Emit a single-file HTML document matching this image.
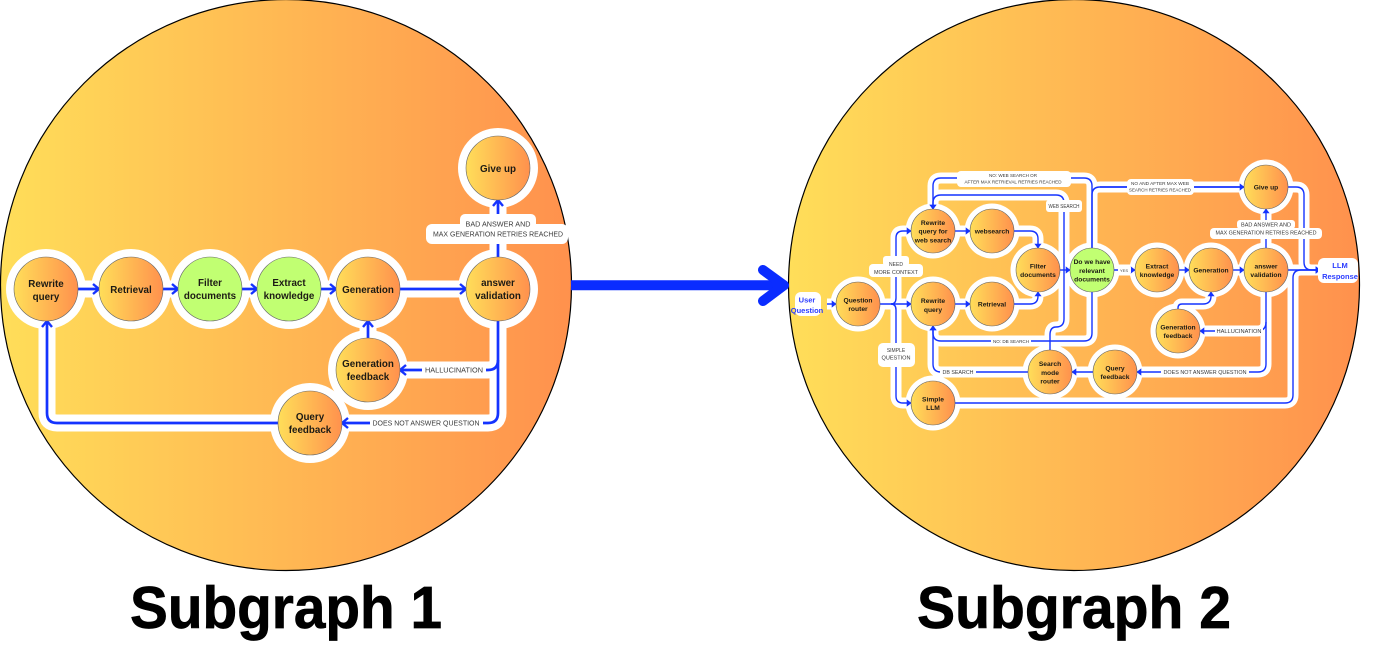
<!DOCTYPE html>
<html><head><meta charset="utf-8"><style>
html,body{margin:0;padding:0;background:#fff;width:1374px;height:655px;overflow:hidden}
svg{display:block}
.d{filter:blur(.35px)}
.n{font-family:"Liberation Sans",sans-serif;font-weight:700;fill:#1c1a14;text-anchor:middle}
.a{font-size:9.8px}.b{font-size:6.7px}
.l{font-family:"Liberation Sans",sans-serif;fill:#3a3a3a;text-anchor:middle}
.u{font-family:"Liberation Sans",sans-serif;font-weight:700;fill:#2b3cff;text-anchor:middle;font-size:7.5px}
.t{font-family:"Liberation Sans",sans-serif;font-weight:700;fill:#000;stroke:#000;stroke-width:.7;font-size:59px}
.h1{fill:none;stroke:#fff;stroke-width:17}.h2{fill:none;stroke:#fff;stroke-width:11}
.p1{fill:none;stroke:#1433ff;stroke-width:2.7;marker-end:url(#m1)}
.p2{fill:none;stroke:#1433ff;stroke-width:1.4;marker-end:url(#m2)}
.q2{fill:none;stroke:#1433ff;stroke-width:1.4}
.o{fill:url(#g);stroke:#666;stroke-width:.6}.g{fill:#c1ff72;stroke:#666;stroke-width:.6}
</style></head><body>
<svg width="1374" height="655" viewBox="0 0 1374 655" xmlns="http://www.w3.org/2000/svg">
<defs>
<linearGradient id="g" x1="0" x2="1" y1="0" y2="0"><stop offset="0" stop-color="#ffde59"/><stop offset="1" stop-color="#ff914d"/></linearGradient>
<marker id="m1" markerUnits="userSpaceOnUse" markerWidth="12" markerHeight="14" refX="10" refY="7" orient="auto"><path d="M4 2 L10 7 L4 12" fill="none" stroke="#1433ff" stroke-width="2.4"/></marker>
<marker id="m2" markerUnits="userSpaceOnUse" markerWidth="8" markerHeight="8" refX="7" refY="4" orient="auto"><path d="M3 1 L7 4 L3 7 Z" fill="#1433ff" stroke="#1433ff" stroke-width=".6"/></marker>
</defs>

<g class="d">
<circle cx="286" cy="285" r="285.5" fill="url(#g)" stroke="#000" stroke-width="1.2"/>
<circle cx="1074" cy="285" r="285.5" fill="url(#g)" stroke="#000" stroke-width="1.2"/>

<!-- big arrow -->
<path d="M571 285.3H782" fill="none" stroke="#0a2cff" stroke-width="10"/>
<path d="M763 270 L784 285.3 L763 301" fill="none" stroke="#0a2cff" stroke-width="10" stroke-linecap="round" stroke-linejoin="round"/>

<!-- Subgraph 1 halos -->
<g class="h1">
<path d="M78 289H466"/><path d="M368 338V321"/><path d="M498 257V200"/>
<path d="M498 321V413Q498 423 488 423H342"/><path d="M498 360Q498 370 488 370H400"/>
<path d="M278 423H57Q47 423 47 413V321"/>
</g>
<g fill="#fff">
<circle cx="46" cy="289" r="40"/><circle cx="131" cy="289" r="40"/><circle cx="210" cy="289" r="40"/><circle cx="289" cy="289" r="40"/><circle cx="368" cy="289" r="40"/><circle cx="498" cy="289" r="40"/><circle cx="498" cy="168" r="40"/><circle cx="368" cy="370" r="40"/><circle cx="310" cy="423" r="40"/>
</g>
<g>
<path class="p1" d="M78 289H99"/><path class="p1" d="M163 289H178"/><path class="p1" d="M242 289H257"/><path class="p1" d="M321 289H336"/><path class="p1" d="M400 289H466"/>
<path class="p1" d="M368 338V321"/><path class="p1" d="M498 257V200"/>
<path class="p1" d="M498 321V413Q498 423 488 423H342"/><path class="p1" d="M498 360Q498 370 488 370H400"/>
<path class="p1" d="M278 423H57Q47 423 47 413V321"/>
</g>
<g>
<circle class="o" cx="46" cy="289" r="32"/><circle class="o" cx="131" cy="289" r="32"/><circle class="g" cx="210" cy="289" r="32"/><circle class="g" cx="289" cy="289" r="32"/><circle class="o" cx="368" cy="289" r="32"/><circle class="o" cx="498" cy="289" r="32"/><circle class="o" cx="498" cy="168" r="32"/><circle class="o" cx="368" cy="370" r="32"/><circle class="o" cx="310" cy="423" r="32"/>
</g>
<g class="n a">
<text x="46" y="287">Rewrite</text><text x="46" y="300">query</text>
<text x="131" y="293">Retrieval</text>
<text x="210" y="286">Filter</text><text x="210" y="299">documents</text>
<text x="289" y="286">Extract</text><text x="289" y="299">knowledge</text>
<text x="368" y="293">Generation</text>
<text x="498" y="286">answer</text><text x="498" y="299">validation</text>
<text x="498" y="172">Give up</text>
<text x="368" y="367">Generation</text><text x="368" y="380">feedback</text>
<text x="310" y="420">Query</text><text x="310" y="433">feedback</text>
</g>
<g fill="#fff">
<rect x="460" y="214" width="76" height="16" rx="5"/><rect x="426" y="224" width="142" height="20" rx="6"/>
<rect x="422" y="362" width="64" height="16" rx="4"/><rect x="370" y="415" width="113" height="16" rx="4"/>
</g>
<g class="l" font-size="7px">
<text x="498" y="226.500" textLength="65" lengthAdjust="spacingAndGlyphs">BAD ANSWER AND</text>
<text x="498" y="236.500" textLength="130" lengthAdjust="spacingAndGlyphs">MAX GENERATION RETRIES REACHED</text>
<text x="454" y="372.500" textLength="58" lengthAdjust="spacingAndGlyphs">HALLUCINATION</text>
<text x="426" y="425.500" textLength="107" lengthAdjust="spacingAndGlyphs">DOES NOT ANSWER QUESTION</text>
</g>

<!-- Subgraph 2 halos -->
<g class="h2">
<path d="M827 304H911"/>
<path d="M891 304Q896 304 896 298V238Q896 231 903 231H911"/>
<path d="M891 304Q896 304 896 310V396Q896 403 903 403H911"/>
<path d="M955 231H970"/><path d="M955 304H970"/>
<path d="M1014 231H1030Q1038 231 1038 239V248"/>
<path d="M1014 304H1030Q1038 304 1038 296V292"/>
<path d="M1060 270H1070"/><path d="M1114 270H1135"/><path d="M1179 270H1189"/><path d="M1233 270H1244"/>
<path d="M1266 248V209"/><path d="M1288 270H1320"/>
<path d="M1288 187H1296Q1304 187 1304 195V262Q1304 270 1312 270H1320"/>
<path d="M955 403H1285Q1293 403 1293 395V278Q1293 270 1301 270H1320"/>
<path d="M1266 292V364Q1266 372 1258 372H1137"/><path d="M1266 322Q1266 331 1257 331H1200"/>
<path d="M1178 309V308Q1178 304 1182 304H1203Q1211 304 1211 296V292"/>
<path d="M1093 372H1072"/>
<path d="M1028 372H941Q933 372 933 364V326"/>
<path d="M1050 350V335Q1050 327 1056 327Q1064 327 1064 319V203Q1064 195 1056 195H941Q933 195 933 203V209"/>
<path d="M1092 292V333Q1092 341 1084 341H941Q933 341 933 333V326"/>
<path d="M1092 248V186Q1092 178 1084 178H941Q933 178 933 186V209"/>
<path d="M1092 248V195Q1092 187 1100 187H1244"/>
</g>
<g fill="#fff">
<circle cx="858" cy="304" r="27.500"/><circle cx="933" cy="231" r="27.500"/><circle cx="992" cy="231" r="27.500"/><circle cx="1038" cy="270" r="27.500"/><circle cx="933" cy="304" r="27.500"/><circle cx="992" cy="304" r="27.500"/><circle cx="933" cy="403" r="27.500"/><circle cx="1050" cy="372" r="27.500"/><circle cx="1092" cy="270" r="27.500"/><circle cx="1157" cy="270" r="27.500"/><circle cx="1211" cy="270" r="27.500"/><circle cx="1266" cy="270" r="27.500"/><circle cx="1266" cy="187" r="27.500"/><circle cx="1178" cy="331" r="27.500"/><circle cx="1115" cy="372" r="27.500"/>
</g>
<g>
<path class="p2" d="M827 304H836"/><path class="p2" d="M880 304H911"/>
<path class="p2" d="M891 304Q896 304 896 298V238Q896 231 903 231H911"/>
<path class="p2" d="M891 304Q896 304 896 310V396Q896 403 903 403H911"/>
<path class="p2" d="M955 231H970"/><path class="p2" d="M955 304H970"/>
<path class="p2" d="M1014 231H1030Q1038 231 1038 239V248"/>
<path class="p2" d="M1014 304H1030Q1038 304 1038 296V292"/>
<path class="p2" d="M1060 270H1070"/><path class="p2" d="M1114 270H1135"/><path class="p2" d="M1179 270H1189"/><path class="p2" d="M1233 270H1244"/>
<path class="p2" d="M1266 248V209"/><path class="p2" d="M1288 270H1320"/>
<path class="p2" d="M1288 187H1296Q1304 187 1304 195V262Q1304 270 1312 270H1320"/>
<path class="p2" d="M955 403H1285Q1293 403 1293 395V278Q1293 270 1301 270H1320"/>
<path class="p2" d="M1266 292V364Q1266 372 1258 372H1137"/><path class="p2" d="M1266 322Q1266 331 1257 331H1200"/>
<path class="p2" d="M1178 309V308Q1178 304 1182 304H1203Q1211 304 1211 296V292"/>
<path class="p2" d="M1093 372H1072"/>
<path class="p2" d="M1028 372H941Q933 372 933 364V326"/>
<path class="p2" d="M1050 350V335Q1050 327 1056 327Q1064 327 1064 319V203Q1064 195 1056 195H941Q933 195 933 203V209"/>
<path class="p2" d="M1092 292V333Q1092 341 1084 341H941Q933 341 933 333V326"/>
<path class="p2" d="M1092 248V186Q1092 178 1084 178H941Q933 178 933 186V209"/>
<path class="q2" d="M1092 248V195Q1092 187 1100 187H1244"/>
<path class="p2" d="M1100 187H1244"/>
</g>
<g>
<circle class="o" cx="858" cy="304" r="22"/><circle class="o" cx="933" cy="231" r="22"/><circle class="o" cx="992" cy="231" r="22"/><circle class="o" cx="1038" cy="270" r="22"/><circle class="o" cx="933" cy="304" r="22"/><circle class="o" cx="992" cy="304" r="22"/><circle class="o" cx="933" cy="403" r="22"/><circle class="o" cx="1050" cy="372" r="22"/><circle class="g" cx="1092" cy="270" r="22"/><circle class="o" cx="1157" cy="270" r="22"/><circle class="o" cx="1211" cy="270" r="22"/><circle class="o" cx="1266" cy="270" r="22"/><circle class="o" cx="1266" cy="187" r="22"/><circle class="o" cx="1178" cy="331" r="22"/><circle class="o" cx="1115" cy="372" r="22"/>
</g>
<g class="n b">
<text x="858" y="302.500">Question</text><text x="858" y="311">router</text>
<text x="933" y="225">Rewrite</text><text x="933" y="233.500">query for</text><text x="933" y="242.500">web search</text>
<text x="992" y="233.500">websearch</text>
<text x="1038" y="268.500">Filter</text><text x="1038" y="277">documents</text>
<text x="933" y="303">Rewrite</text><text x="933" y="312">query</text>
<text x="992" y="306.500">Retrieval</text>
<text x="933" y="401.500">Simple</text><text x="933" y="410">LLM</text>
<text x="1050" y="366">Search</text><text x="1050" y="375">mode</text><text x="1050" y="383.500">router</text>
<text x="1092" y="264">Do we have</text><text x="1092" y="273">relevant</text><text x="1092" y="281.500">documents</text>
<text x="1157" y="268.500">Extract</text><text x="1157" y="277">knowledge</text>
<text x="1211" y="272.500">Generation</text>
<text x="1266" y="268.500">answer</text><text x="1266" y="277">validation</text>
<text x="1266" y="189.500">Give up</text>
<text x="1178" y="329.500">Generation</text><text x="1178" y="338">feedback</text>
<text x="1115" y="370.500">Query</text><text x="1115" y="379">feedback</text>
</g>
<g fill="#fff">
<rect x="795" y="292" width="26" height="24" rx="6"/>
<rect x="1318" y="258" width="40" height="25" rx="6"/>
<rect x="883" y="256" width="26" height="10" rx="3"/><rect x="869" y="264" width="54" height="13" rx="4"/>
<rect x="878" y="343" width="37" height="24" rx="5"/>
<rect x="957" y="171" width="114" height="16" rx="4"/>
<rect x="1046" y="200" width="36" height="12" rx="3"/>
<rect x="1127" y="179" width="67" height="16" rx="4"/>
<rect x="1118" y="266" width="13" height="8" rx="2"/>
<rect x="1237" y="220" width="58" height="9" rx="3"/><rect x="1210" y="228" width="112" height="11" rx="4"/>
<rect x="1215" y="327" width="48" height="9" rx="2"/>
<rect x="1161" y="367" width="88" height="10" rx="3"/>
<rect x="940" y="367" width="36" height="10" rx="2"/>
<rect x="991" y="337" width="40" height="8" rx="2"/>
</g>
<g class="u">
<text x="807" y="302.500">User</text><text x="807" y="313">Question</text>
<text x="1340" y="268">LLM</text><text x="1340" y="279">Response</text>
</g>
<g class="l" font-size="5px">
<text x="896" y="266">NEED</text>
<text x="896" y="274" textLength="44" lengthAdjust="spacingAndGlyphs">MORE CONTEXT</text>
<text x="896" y="352">SIMPLE</text>
<text x="896" y="359.500" textLength="29" lengthAdjust="spacingAndGlyphs">QUESTION</text>
<text x="1013" y="177" textLength="48" lengthAdjust="spacingAndGlyphs" font-size="4.500">NO: WEB SEARCH OR</text>
<text x="1013" y="183.500" textLength="97" lengthAdjust="spacingAndGlyphs" font-size="4.500">AFTER MAX RETRIEVAL RETRIES REACHED</text>
<text x="1064" y="208" textLength="31" lengthAdjust="spacingAndGlyphs">WEB SEARCH</text>
<text x="1160" y="185" textLength="58" lengthAdjust="spacingAndGlyphs" font-size="4.500">NO AND AFTER MAX WEB</text>
<text x="1160" y="191.500" textLength="62" lengthAdjust="spacingAndGlyphs" font-size="4.500">SEARCH RETRIES REACHED</text>
<text x="1124" y="272" font-size="4">YES</text>
<text x="1266" y="226.500" textLength="50" lengthAdjust="spacingAndGlyphs">BAD ANSWER AND</text>
<text x="1266" y="234.500" textLength="101" lengthAdjust="spacingAndGlyphs">MAX GENERATION RETRIES REACHED</text>
<text x="1239" y="333" textLength="45" lengthAdjust="spacingAndGlyphs">HALLUCINATION</text>
<text x="1205" y="374" textLength="83" lengthAdjust="spacingAndGlyphs">DOES NOT ANSWER QUESTION</text>
<text x="958" y="374" textLength="31" lengthAdjust="spacingAndGlyphs">DB SEARCH</text>
<text x="1011" y="343" textLength="36" lengthAdjust="spacingAndGlyphs" font-size="4.500">NO: DB SEARCH</text>
</g>
</g>

<text class="t" x="130" y="628" textLength="312" lengthAdjust="spacingAndGlyphs">Subgraph 1</text>
<text class="t" x="917" y="628" textLength="314" lengthAdjust="spacingAndGlyphs">Subgraph 2</text>
</svg>
</body></html>
